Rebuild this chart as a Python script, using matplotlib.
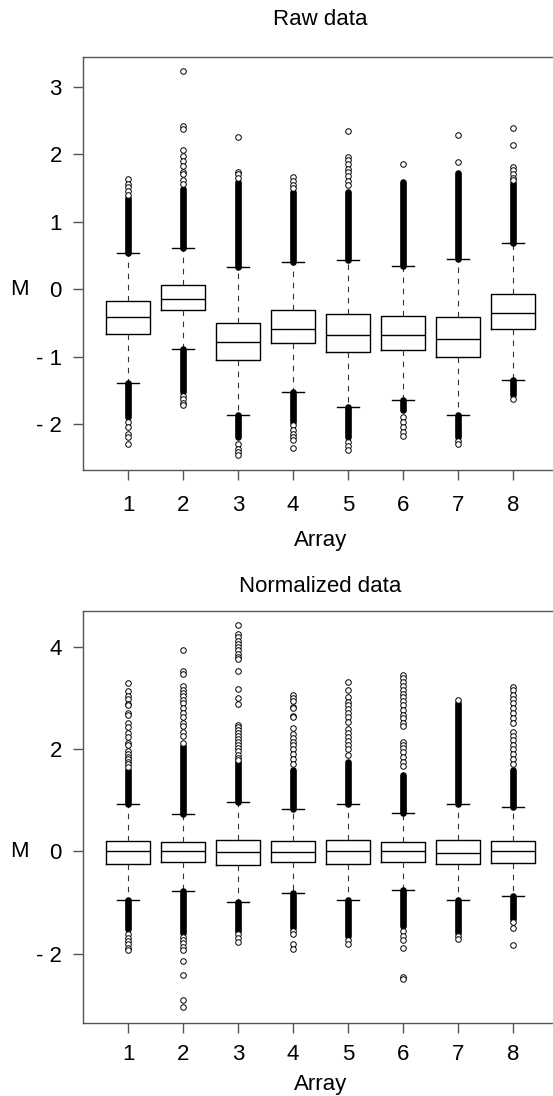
import matplotlib
matplotlib.use("Agg")
import matplotlib.pyplot as plt
import matplotlib.transforms as mtransforms

plt.rcParams['font.family'] = ['Liberation Sans', 'DejaVu Sans']

arrays = [1, 2, 3, 4, 5, 6, 7, 8]

# ---- Raw data (top panel) ----
raw_med = [-0.42, -0.14, -0.79, -0.59, -0.68, -0.68, -0.74, -0.36]
raw_q1 = [-0.67, -0.31, -1.05, -0.80, -0.93, -0.90, -1.00, -0.59]
raw_q3 = [-0.18, 0.06, -0.50, -0.31, -0.37, -0.40, -0.41, -0.07]
raw_lo = [-1.39, -0.89, -1.87, -1.53, -1.75, -1.65, -1.87, -1.35]
raw_hi = [0.53, 0.61, 0.33, 0.40, 0.43, 0.34, 0.44, 0.68]
# end of the densely packed outlier runs (they start at the whisker caps)
raw_dense_top = [1.35, 1.49, 1.59, 1.44, 1.44, 1.59, 1.72, 1.57]
raw_dense_bot = [-1.89, -1.52, -2.19, -1.97, -2.19, -1.79, -2.19, -1.57]
# isolated outliers
raw_out = [
    [1.63, 1.56, 1.51, 1.45, 1.40, -1.97, -2.04, -2.14, -2.19, -2.30],
    [3.23, 2.42, 2.37, 2.06, 1.98, 1.90, 1.82, 1.73, 1.71, 1.61, 1.56,
     -1.59, -1.63, -1.68, -1.72],
    [2.26, 1.74, 1.70, 1.65, -2.29, -2.37, -2.42, -2.46],
    [1.66, 1.60, 1.55, 1.50, -2.01, -2.09, -2.14, -2.19, -2.24, -2.35],
    [2.34, 1.96, 1.91, 1.85, 1.78, 1.73, 1.67, 1.60, 1.55,
     -2.27, -2.32, -2.39],
    [1.85, -1.90, -1.97, -2.04, -2.11, -2.18],
    [2.28, 1.89, -2.25, -2.30],
    [2.39, 2.14, 1.81, 1.76, 1.71, 1.65, 1.61, -1.63],
]

# ---- Normalized data (bottom panel) ----
norm_med = [0.0, 0.0, -0.01, -0.01, 0.0, 0.0, -0.03, 0.0]
norm_q1 = [-0.25, -0.21, -0.26, -0.21, -0.25, -0.20, -0.25, -0.23]
norm_q3 = [0.21, 0.18, 0.22, 0.20, 0.23, 0.18, 0.23, 0.21]
norm_lo = [-0.96, -0.77, -0.99, -0.82, -0.96, -0.76, -0.95, -0.88]
norm_hi = [0.92, 0.73, 0.96, 0.82, 0.92, 0.74, 0.92, 0.86]
norm_dense_top = [1.59, 2.05, 1.75, 1.59, 1.75, 1.50, 2.90, 1.59]
norm_dense_bot = [-1.52, -1.59, -1.56, -1.49, -1.65, -1.46, -1.59, -1.33]
norm_out = [
    [3.29, 3.14, 3.03, 2.97, 2.88, 2.85, 2.70, 2.66, 2.51, 2.42, 2.32, 2.23,
     2.12, 2.08, 1.95, 1.90, 1.85, 1.80, 1.75, 1.70, 1.65,
     -1.62, -1.69, -1.75, -1.81, -1.88, -1.93],
    [3.93, 3.53, 3.47, 3.23, 3.16, 3.10, 3.03, 2.96, 2.89, 2.79, 2.70, 2.62,
     2.51, 2.44, 2.34, 2.26, 2.11,
     -1.67, -1.74, -1.80, -1.87, -1.92, -2.14, -2.41, -2.91, -3.05],
    [4.42, 4.24, 4.18, 4.11, 4.05, 3.99, 3.93, 3.86, 3.80, 3.75, 3.52, 3.17,
     3.00, 2.88, 2.47, 2.42, 2.37, 2.31, 2.25, 2.19, 2.13, 2.07, 2.01, 1.95,
     1.89, 1.83, 1.78, -1.62, -1.70, -1.78],
    [3.05, 3.00, 2.93, 2.82, 2.79, 2.64, 2.62, 2.40, 2.30, 2.21, 2.14, 2.08,
     1.99, 1.91, 1.81, 1.71, -1.56, -1.62, -1.82, -1.90],
    [3.31, 3.15, 3.01, 2.92, 2.86, 2.78, 2.70, 2.62, 2.53, 2.38, 2.32, 2.24,
     2.16, 2.08, 1.99, 1.88, -1.73, -1.82],
    [3.44, 3.38, 3.31, 3.23, 3.16, 3.08, 3.01, 2.94, 2.86, 2.76, 2.66, 2.60,
     2.50, 2.45, 2.14, 2.08, 2.01, 1.93, 1.85, 1.75, 1.66,
     -1.56, -1.65, -1.73, -1.88, -2.45, -2.50],
    [2.96, -1.65, -1.72],
    [3.21, 3.15, 3.05, 2.97, 2.89, 2.79, 2.70, 2.60, 2.51, 2.34, 2.26, 2.17,
     2.08, 1.99, 1.91, 1.81, 1.71, -1.39, -1.49, -1.84],
]

W, H = 553, 1096
fig = plt.figure(figsize=(W / 100, H / 100), dpi=100)

axis_grey = '#555555'


def panel(rect, med, q1, q3, lo, hi, dtop, dbot, outs, ylim, yticks, ylabels,
          title, title_pad, tick_pad, label_pad):
    ax = fig.add_axes(rect)
    stats = []
    for i in range(len(arrays)):
        stats.append(dict(med=med[i], q1=q1[i], q3=q3[i],
                          whislo=lo[i], whishi=hi[i], fliers=[]))
    ax.bxp(stats, positions=arrays, widths=0.8, capwidths=0.4,
           showfliers=False,
           boxprops=dict(color='black', lw=1.0),
           medianprops=dict(color='black', lw=1.0),
           whiskerprops=dict(color='#333333', lw=0.8, linestyle=(0, (5, 5))),
           capprops=dict(color='black', lw=1.0))
    # dense outlier runs
    ax.vlines(arrays, hi, dtop, color='black', lw=4.8, capstyle='round',
              zorder=3)
    ax.vlines(arrays, dbot, lo, color='black', lw=4.8, capstyle='round',
              zorder=3)
    for x, vals in zip(arrays, outs):
        ax.plot([x] * len(vals), vals, linestyle='none', marker='o', ms=4.0,
                mfc='white', mec='black', mew=0.7, zorder=4)

    ax.set_xlim(0.18, 8.82)
    ax.set_ylim(*ylim)
    ax.set_xticks(arrays)
    ax.set_xticklabels([str(a) for a in arrays])
    ax.set_yticks(yticks)
    ax.set_yticklabels(ylabels)
    for s in ax.spines.values():
        s.set_color(axis_grey)
        s.set_linewidth(1.0)
    ax.tick_params(axis='both', colors=axis_grey, labelcolor='black',
                   length=7.2, width=1.0, labelsize=16)
    ax.tick_params(axis='x', pad=tick_pad)
    ax.tick_params(axis='y', pad=8)
    ax.set_xlabel('Array', fontsize=16, labelpad=label_pad)
    ax.set_title(title, fontsize=16, pad=title_pad)
    tr = mtransforms.blended_transform_factory(ax.transAxes, ax.transData)
    ax.text(-0.133, 0, 'M', transform=tr, ha='center', va='center',
            fontsize=16)
    return ax


left = 83 / W
width = (558 - 83) / W

panel([left, 1 - 470 / H, width, (470 - 57) / H],
      raw_med, raw_q1, raw_q3, raw_lo, raw_hi, raw_dense_top, raw_dense_bot,
      raw_out, (-2.68, 3.44), [-2, -1, 0, 1, 2, 3],
      ['- 2', '- 1', '0', '1', '2', '3'], 'Raw data', 23, 11, 10)

panel([left, 1 - 1023.3 / H, width, (1023.3 - 610.7) / H],
      norm_med, norm_q1, norm_q3, norm_lo, norm_hi, norm_dense_top,
      norm_dense_bot, norm_out, (-3.36, 4.70), [-2, 0, 2, 4],
      ['- 2', '0', '2', '4'], 'Normalized data', 13.7, 8, 6)

fig.savefig('out.png', dpi=100)
